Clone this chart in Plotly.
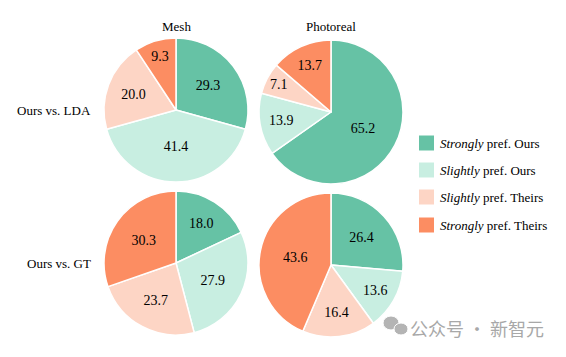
import plotly.graph_objects as go

W, H = 566, 357
categories = ["Strongly pref. Ours", "Slightly pref. Ours", "Slightly pref. Theirs", "Strongly pref. Theirs"]
legend_labels = ["<i>Strongly</i> pref. Ours", "<i>Slightly</i> pref. Ours",
                 "<i>Slightly</i> pref. Theirs", "<i>Strongly</i> pref. Theirs"]
colors = ["#66c2a5", "#c8eee1", "#fdd5c5", "#fc8d62"]

col_titles = ["Mesh", "Photoreal"]
row_titles = ["Ours vs. LDA", "Ours vs. GT"]

lda_mesh = [29.3, 41.4, 20.0, 9.3]
lda_photo = [65.2, 13.9, 7.1, 13.7]
gt_mesh = [18.0, 27.9, 23.7, 30.3]
gt_photo = [26.4, 13.6, 16.4, 43.6]

FONT = "Liberation Serif"

def px_domain(cx, cy, r):
    return dict(x=[(cx - r) / W, (cx + r) / W], y=[(H - cy - r) / H, (H - cy + r) / H])

fig = go.Figure()
pies = [
    (lda_mesh, 176, 110),
    (lda_photo, 331, 112),
    (gt_mesh, 176, 263),
    (gt_photo, 331, 265),
]
for vals, cx, cy in pies:
    fig.add_trace(go.Pie(
        labels=categories, values=vals, sort=False, direction="clockwise", rotation=0,
        marker=dict(colors=colors, line=dict(color="white", width=1.5)),
        text=[f"{v:.1f}" for v in vals], textinfo="text", textposition="inside",
        insidetextorientation="horizontal",
        textfont=dict(family=FONT, size=14, color="black"),
        hoverinfo="label+value",
        domain=px_domain(cx, cy, 72), showlegend=False,
    ))

ann = []
for t, cx in zip(col_titles, [176, 331]):
    ann.append(dict(text=t, x=cx / W, y=1 - 27 / H, xref="paper", yref="paper",
                    showarrow=False, font=dict(family=FONT, size=13, color="black"),
                    xanchor="center", yanchor="middle"))
for t, cy in zip(row_titles, [110, 263]):
    ann.append(dict(text=t, x=93 / W, y=1 - cy / H, xref="paper", yref="paper",
                    showarrow=False, font=dict(family=FONT, size=13, color="black"),
                    xanchor="right", yanchor="middle"))

shapes = []
leg_y = [143, 170, 197, 225]
for lab, col, ly in zip(legend_labels, colors, leg_y):
    shapes.append(dict(type="rect", xref="paper", yref="paper",
                       x0=419 / W, x1=434 / W, y0=1 - (ly + 7.5) / H, y1=1 - (ly - 7.5) / H,
                       fillcolor=col, line=dict(width=0)))
    ann.append(dict(text=lab, x=438 / W, y=1 - ly / H, xref="paper", yref="paper",
                    showarrow=False, font=dict(family=FONT, size=13, color="black"),
                    xanchor="left", yanchor="middle"))

# watermark
for (cx, cy, rx, ry) in [(391, 323, 8, 7), (401, 329, 7, 6)]:
    shapes.append(dict(type="circle", xref="paper", yref="paper",
                       x0=(cx - rx) / W, x1=(cx + rx) / W, y0=1 - (cy + ry) / H, y1=1 - (cy - ry) / H,
                       fillcolor="#b4b4b4", line=dict(color="white", width=1)))
ann.append(dict(text="公众号 · 新智元", x=546 / W, y=1 - 328 / H, xref="paper", yref="paper",
                showarrow=False, font=dict(family="Noto Sans CJK SC", size=18, color="#a8a8a8"),
                xanchor="right", yanchor="middle"))

fig.update_layout(width=W, height=H, margin=dict(l=0, r=0, t=0, b=0),
                  paper_bgcolor="white", plot_bgcolor="white",
                  annotations=ann, shapes=shapes)
fig.write_html("out.html", config={"displayModeBar": False},
               post_script="document.body.style.margin='0';document.body.style.overflow='hidden';")
